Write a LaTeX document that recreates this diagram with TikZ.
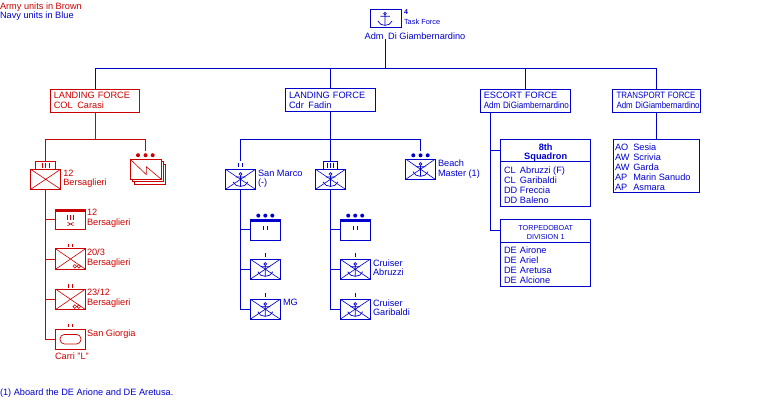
\documentclass[tikz,border=0pt]{standalone}
\usepackage{fontspec}
\setmainfont{Liberation Sans}
\usepackage{graphicx}
\usetikzlibrary{calc}
\definecolor{armyred}{RGB}{204,0,0}
\definecolor{navyblue}{RGB}{0,0,204}
\begin{document}
\begin{tikzpicture}[x=1pt,y=-1pt,line width=0.9pt,
  every node/.style={inner sep=0pt,outer sep=0pt,font=\fontsize{9.2}{10}\selectfont},
  lbl/.style={anchor=base west},
  ctr/.style={anchor=base},
  ubox/.style={draw,fill=white,rectangle,minimum width=30pt,minimum height=20pt},
  xcross/.style={path picture={\draw[line width=0.6pt] (path picture bounding box.north west) -- (path picture bounding box.south east) (path picture bounding box.north east) -- (path picture bounding box.south west);}},
  echbox/.style={draw,fill=white,rectangle,minimum height=8.3pt},
  hqbox/.style={draw,rectangle,minimum height=23pt,text width=83pt,align=left},
  listbox/.style={draw,rectangle},
  tick/.style={line width=0.7pt},
  smallfont/.style={font=\fontsize{7.2}{8}\selectfont},
  pics/anc/.style={code={
    \draw[line width=0.7pt] (0,-5.2) circle[radius=1.4pt];
    \draw[line width=0.7pt] (0,-3.8) -- (0,7.5) (-5,-2.4) -- (5,-2.4)
      (-7.5,2.5) .. controls (-5,8.7) and (5,8.7) .. (7.5,2.5);
  }},
]
\useasboundingbox (0,0) rectangle (770,400);

% legend
\node[lbl,text=armyred] (lg1) at (0,9.5) {Army units in Brown};
\node[lbl,text=navyblue] (lg2) at (0,18.8) {Navy units in Blue};

% ================= ARMY (red) =================
\begin{scope}[armyred]
  \node[hqbox,minimum width=89pt] (alf) at (95.3,100.8) {LANDING FORCE\\COL\enspace Carasi};
  \coordinate (a1) at (95.3,139.3);
  \coordinate (a1l) at (45.7,139.3);
  \coordinate (a1r) at (145.7,139.3);

  % regiment 12 Bersaglieri
  \node[echbox,minimum width=19.7pt] (r12e) at (45.7,165.2) {};
  \draw[tick] (42.4,162.6) -- (42.4,167.8) (45.7,162.6) -- (45.7,167.8) (49,162.6) -- (49,167.8);
  \node[ubox,xcross] (r12) at (45.7,179.3) {};
  \node[lbl] (r12l1) at (63.3,176) {12};
  \node[lbl] (r12l2) at (63.3,185.5) {Bersaglieri};

  % stacked unit
  \node[ubox,minimum width=31pt] (stkc) at (150.3,174) {};
  \node[ubox,minimum width=31pt] (stkb) at (148,171.6) {};
  \node[ubox,minimum width=31pt] (stka) at (145.7,169.2) {};
  \draw[line width=0.6pt] (stka.north west) -- (146.3,174.6) -- (146.3,166.7) -- (stka.south east);
  \fill (138,155.2) circle[radius=2pt] (145.5,155.2) circle[radius=2pt] (152.7,155.2) circle[radius=2pt];
  \coordinate (stkd) at (145.7,150.5);

  \draw (alf.south) -- (a1);
  \draw (a1l) -- (a1r);
  \draw (a1l) -- (r12e.north);
  \draw (a1r) -- (stkd);

  % battalions
  \node[ubox,minimum width=29.6pt,minimum height=20.3pt] (b1) at (70.5,219.2) {};
  \fill (b1.north west) rectangle ($(b1.north east)+(0,3)$);
  \draw[tick] (67.5,215) -- (67.5,220) (70.5,215) -- (70.5,220) (73.5,215) -- (73.5,220);
  \draw[line width=0.6pt] (67.5,222.3) -- (73.5,225.7) (67.5,225.7) -- (73.5,222.3);
  \node[lbl] (b1l1) at (87,215) {12};
  \node[lbl] (b1l2) at (87,225) {Bersaglieri};

  \node[ubox,minimum width=29.6pt,minimum height=20.3pt,xcross] (b2) at (70.5,259) {};
  \draw[tick] (68.7,243.5) -- (68.7,247.3) (72.3,243.5) -- (72.3,247.3);
  \draw[line width=0.6pt] (74.8,266.3) circle[radius=1.8pt] (78.8,266.3) circle[radius=1.8pt];
  \node[lbl] (b2l1) at (87,255.7) {20/3};
  \node[lbl] (b2l2) at (87,265.7) {Bersaglieri};

  \node[ubox,minimum width=29.6pt,minimum height=20.3pt,xcross] (b3) at (70.5,299.3) {};
  \draw[tick] (68.7,283.7) -- (68.7,287.5) (72.3,283.7) -- (72.3,287.5);
  \draw[line width=0.6pt] (74.8,306.6) circle[radius=1.8pt] (78.8,306.6) circle[radius=1.8pt];
  \node[lbl] (b3l1) at (87,295.7) {23/12};
  \node[lbl] (b3l2) at (87,305.7) {Bersaglieri};

  \node[ubox,minimum width=29.6pt,minimum height=20.3pt] (b4) at (70.5,339.2) {};
  \draw[tick] (68.7,323.6) -- (68.7,327.4) (72.3,323.6) -- (72.3,327.4);
  \draw[line width=0.7pt,rounded corners=4.5pt] ($(b4)+(-10.5,-4.8)$) rectangle ($(b4)+(10.5,4.8)$);
  \node[lbl] (b4l1) at (87,336) {San Giorgia};
  \node[lbl] (b4l2) at (55,359.3) {Carri "L"};

  \draw (r12.south) -- (r12.south |- b4.west) -- (b4.west);
  \draw (r12.south |- b1.west) -- (b1.west);
  \draw (r12.south |- b2.west) -- (b2.west);
  \draw (r12.south |- b3.west) -- (b3.west);
\end{scope}

% ================= NAVY (blue) =================
\begin{scope}[navyblue]
  % task force
  \node[draw,minimum width=31pt,minimum height=18pt] (tf) at (386.3,18) {};
  \pic[scale=0.95] at (385,18.6) {anc};
  \node[lbl,font=\fontsize{7}{8}\selectfont\bfseries] (tfn) at (404,14) {4};
  \node[lbl,font=\fontsize{7.4}{8}\selectfont] (tft) at (404,24.3) {Task Force};
  \node[ctr] (tfl) at (415,39) {Adm\enspace Di Giambernardino};

  \coordinate (j0) at (385,68);
  \coordinate (j1) at (95.3,68);
  \coordinate (j2) at (330.5,68);
  \coordinate (j3) at (525.3,68);
  \coordinate (j4) at (656.5,68);
  \draw (tfl.south -| j0) -- (j0);
  \draw (j1) -- (j4);
  \draw (j1) -- (alf.north);

  % navy landing force
  \node[hqbox,minimum width=90.4pt,minimum height=23.4pt] (nlf) at (330.5,100) {LANDING FORCE\\Cdr\enspace Fadin};
  \draw (j2) -- (nlf.north);
  \coordinate (n1) at (330.5,139.3);
  \coordinate (n1l) at (240.5,139.3);
  \coordinate (n1r) at (420.5,139.3);

  % San Marco
  \node[ubox,xcross] (sm) at (240.5,179.3) {};
  \pic at (sm) {anc};
  \draw[tick] (238.7,163.3) -- (238.7,167) (242.3,163.3) -- (242.3,167);
  \coordinate (sme) at (240.5,161.3);
  \node[lbl] (sml1) at (258,176) {San Marco};
  \node[lbl] (sml2) at (258,185) {(-)};

  % center regiment
  \node[echbox,minimum width=14.4pt] (cre) at (330.5,165.2) {};
  \draw[tick] (327.3,162.6) -- (327.3,167.8) (330.5,162.6) -- (330.5,167.8) (333.7,162.6) -- (333.7,167.8);
  \node[ubox,xcross] (cr) at (330.5,179.3) {};
  \pic at (cr) {anc};

  % beach master
  \node[ubox,minimum width=29.6pt,minimum height=20.3pt,xcross] (bm) at (420.5,169.2) {};
  \pic at (bm) {anc};
  \fill (413.3,155.3) circle[radius=2pt] (420.5,155.3) circle[radius=2pt] (427.7,155.3) circle[radius=2pt];
  \coordinate (bmd) at (420.5,150.5);
  \node[lbl] (bml1) at (438,166) {Beach};
  \node[lbl] (bml2) at (438,176) {Master (1)};

  \draw (nlf.south) -- (n1);
  \draw (n1l) -- (n1r);
  \draw (n1l) -- (sme);
  \draw (n1) -- (cre.north);
  \draw (n1r) -- (bmd);

  % left column
  \node[ubox,minimum height=21pt] (m1) at (265.3,229.8) {};
  \fill (m1.north west) rectangle ($(m1.north east)+(0,3)$);
  \fill (258.3,215.6) circle[radius=2pt] (265.3,215.6) circle[radius=2pt] (272.3,215.6) circle[radius=2pt];
  \draw[tick] (263.5,226) -- (263.5,230.2) (267.1,226) -- (267.1,230.2);
  \node[ubox,xcross] (m2) at (265.3,269.2) {};
  \pic at (m2) {anc};
  \draw[tick] (265.3,253.4) -- (265.3,257.2);
  \node[ubox,xcross] (m3) at (265.3,309.2) {};
  \pic at (m3) {anc};
  \draw[tick] (265.3,293.4) -- (265.3,297.2);
  \node[lbl] (m3l) at (283,305.7) {MG};
  \draw (sm.south) -- (sm.south |- m3.west) -- (m3.west);
  \draw (sm.south |- m1.west) -- (m1.west);
  \draw (sm.south |- m2.west) -- (m2.west);

  % right column
  \node[ubox,minimum height=21pt] (r1) at (355.2,229.8) {};
  \fill (r1.north west) rectangle ($(r1.north east)+(0,3)$);
  \fill (348.2,215.6) circle[radius=2pt] (355.2,215.6) circle[radius=2pt] (362.2,215.6) circle[radius=2pt];
  \draw[tick] (353.4,226) -- (353.4,230.2) (357,226) -- (357,230.2);
  \node[ubox,xcross] (r2) at (355.2,269.2) {};
  \pic at (r2) {anc};
  \draw[tick] (355.2,253.4) -- (355.2,257.2);
  \node[ubox,xcross] (r3) at (355.2,309.2) {};
  \pic at (r3) {anc};
  \draw[tick] (355.2,293.4) -- (355.2,297.2);
  \node[lbl] (r2l1) at (373,266) {Cruiser};
  \node[lbl] (r2l2) at (373,275.5) {Abruzzi};
  \node[lbl] (r3l1) at (373,306) {Cruiser};
  \node[lbl] (r3l2) at (373,315.5) {Garibaldi};
  \draw (cr.south) -- (cr.south |- r3.west) -- (r3.west);
  \draw (cr.south |- r1.west) -- (r1.west);
  \draw (cr.south |- r2.west) -- (r2.west);

  % escort force
  \node[hqbox,minimum width=90.7pt] (esc) at (525.3,100.8) {ESCORT FORCE\\\scalebox{0.88}[1]{Adm DiGiambernardino}};
  \draw (j3) -- (esc.north);

  \node[listbox,minimum width=90pt,minimum height=67.4pt] (sq) at (545.7,173) {};
  \draw ([yshift=-22.4pt]sq.north west) -- ([yshift=-22.4pt]sq.north east);
  \node[ctr,font=\fontsize{9.2}{10}\selectfont\bfseries] (sqt1) at (545.7,150) {8th};
  \node[ctr,font=\fontsize{9.2}{10}\selectfont\bfseries] (sqt2) at (545.7,159) {Squadron};
  \node[lbl] (sq1) at (504,173.3) {\makebox[16pt][l]{CL}Abruzzi (F)};
  \node[lbl] (sq2) at (504,183.3) {\makebox[16pt][l]{CL}Garibaldi};
  \node[lbl] (sq3) at (504,193.3) {\makebox[16pt][l]{DD}Freccia};
  \node[lbl] (sq4) at (504,203.3) {\makebox[16pt][l]{DD}Baleno};

  \node[listbox,minimum width=90pt,minimum height=67.4pt] (tdv) at (545.7,253) {};
  \draw ([yshift=-23pt]tdv.north west) -- ([yshift=-23pt]tdv.north east);
  \node[ctr,smallfont] (tdt1) at (545.7,230) {TORPEDOBOAT};
  \node[ctr,smallfont] (tdt2) at (545.7,239.5) {DIVISION 1};
  \node[lbl] (td1) at (504,253.3) {\makebox[16pt][l]{DE}Airone};
  \node[lbl] (td2) at (504,263.3) {\makebox[16pt][l]{DE}Ariel};
  \node[lbl] (td3) at (504,273.3) {\makebox[16pt][l]{DE}Aretusa};
  \node[lbl] (td4) at (504,283.3) {\makebox[16pt][l]{DE}Alcione};

  \coordinate (e0) at ($(esc.south west)+(10.7,0)$);
  \coordinate (e1) at ($(sq.north west)+(0,10.7)$);
  \coordinate (e2) at ($(tdv.north west)+(0,11.4)$);
  \draw (e0) -- (e0 |- e2) -- (e2);
  \draw (e0 |- e1) -- (e1);

  % transport force
  \node[hqbox,minimum width=87.4pt,text width=80pt] (trn) at (656.5,100.8) {\scalebox{0.86}[1]{TRANSPORT FORCE}\\\scalebox{0.86}[1]{Adm DiGiambernardino}};
  \draw (j4) -- (trn.north);
  \node[listbox,minimum width=86.7pt,minimum height=53.4pt] (tl) at (656.5,166) {};
  \draw (trn.south) -- (tl.north);
  \node[lbl] (tl1) at (615,150.7) {\makebox[18.3pt][l]{AO}Sesia};
  \node[lbl] (tl2) at (615,160.7) {\makebox[18.3pt][l]{AW}Scrivia};
  \node[lbl] (tl3) at (615,170.7) {\makebox[18.3pt][l]{AW}Garda};
  \node[lbl] (tl4) at (615,180.7) {\makebox[18.3pt][l]{AP}Marin Sanudo};
  \node[lbl] (tl5) at (615,190.7) {\makebox[18.3pt][l]{AP}Asmara};

  % footnote
  \node[lbl] (fn) at (0,395.7) {(1) Aboard the DE Arione and DE Aretusa.};
\end{scope}
\end{tikzpicture}
\end{document}
